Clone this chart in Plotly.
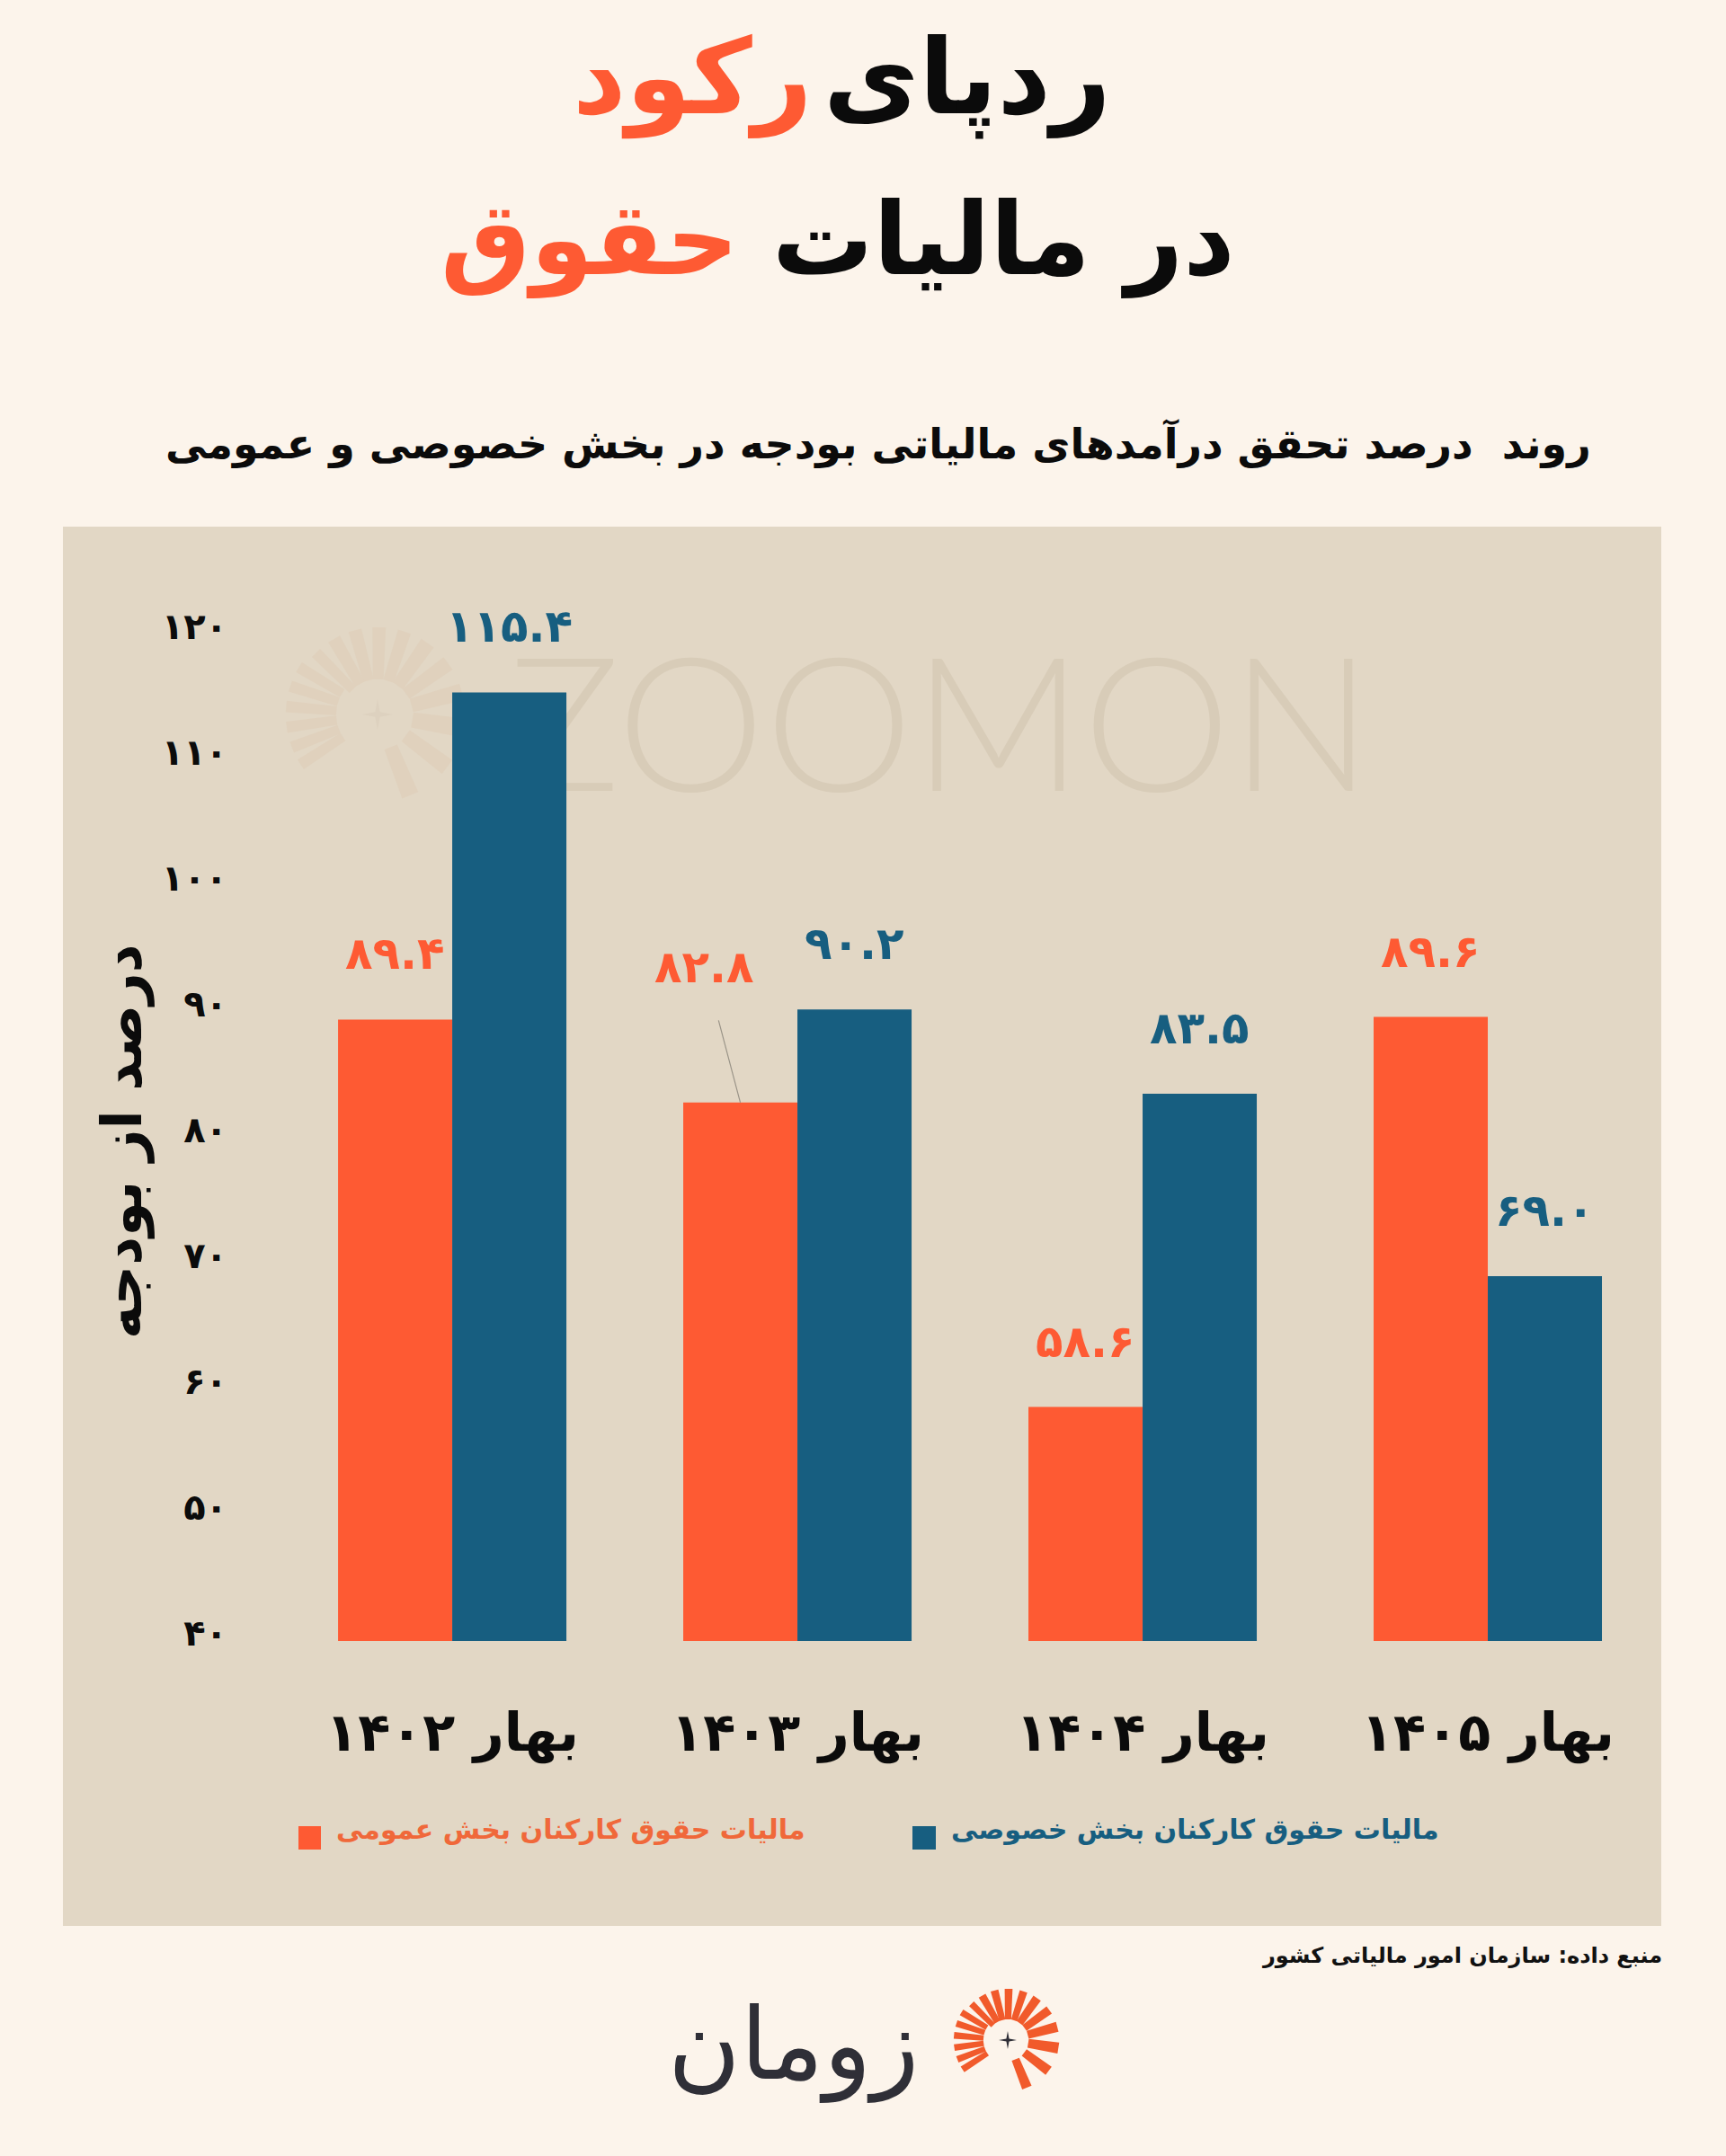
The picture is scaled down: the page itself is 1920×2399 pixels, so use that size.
import math
import plotly.graph_objects as go

# ---------------- data ----------------
categories = ["بهار ۱۴۰۲", "بهار ۱۴۰۳", "بهار ۱۴۰۴", "بهار ۱۴۰۵"]
public_values = [89.4, 82.8, 58.6, 89.6]
private_values = [115.4, 90.2, 83.5, 69.0]
public_name = "مالیات حقوق کارکنان بخش عمومی"
private_name = "مالیات حقوق کارکنان بخش خصوصی"
y_tick_values = [40, 50, 60, 70, 80, 90, 100, 110, 120]

FA_DIGITS = str.maketrans("0123456789", "۰۱۲۳۴۵۶۷۸۹")


def fa(s):
    return str(s).translate(FA_DIGITS)


y_tick_labels = [fa(v) for v in y_tick_values]
public_labels = [fa(f"{v:.1f}") for v in public_values]
private_labels = [fa(f"{v:.1f}") for v in private_values]

# ---------------- style ----------------
ORANGE = "#FE5A33"
BLUE = "#175E80"
PANEL = "#E2D7C5"
PAGE = "#FCF4EB"
INK = "#0B0B0B"
FA_FONT = "DejaVu Sans"

W, H = 1920, 2399
L, R = 260, 1847
T, B = 636, 1826
YMIN, YMAX = 40, 125
XMIN, XMAX = -0.633, 3.5


def px(x):
    return (x - L) / (R - L)


def py(y):
    return (B - y) / (B - T)


fig = go.Figure()
fig.add_trace(go.Bar(x=categories, y=[v - YMIN for v in public_values], base=YMIN,
                     name=public_name, marker=dict(color=ORANGE, line=dict(width=0)),
                     hoverinfo="skip"))
fig.add_trace(go.Bar(x=categories, y=[v - YMIN for v in private_values], base=YMIN,
                     name=private_name, marker=dict(color=BLUE, line=dict(width=0)),
                     hoverinfo="skip"))

shapes = []
# panel
shapes.append(dict(type="rect", xref="paper", yref="paper", x0=px(70), x1=px(1848),
                   y0=py(2143), y1=py(586), fillcolor=PANEL, line=dict(width=0), layer="below"))
# watermark text
shapes.append(dict(type="rect", xref="paper", yref="paper", x0=px(585), x1=px(1507),
                   y0=py(872), y1=py(720), fillcolor="rgba(0,0,0,0)", line=dict(width=0),
                   layer="below",
                   label=dict(text="ZOOMON", textposition="middle center",
                              font=dict(family="Lato Light, Lato, sans-serif", size=208, color="#D8CCB8"))))


def sunburst(cx, cy, s, color, star_color, layer):
    rays = [(-68, 9), (-37, 9), (-9, 10), (15, 9), (36, 8), (55, 8), (72, 7), (89, 7),
            (105, 7), (120, 7), (135, 6), (149, 6), (162, 6), (175, 6), (188, 6), (201, 6), (213, 6)]
    out = []
    for ang, wdt in rays:
        a = math.radians(ang)
        r1, r2 = 23 * s, 57 * s
        if 140 < ang < 220:
            r1, r2 = 27 * s, 60 * s
        ux, uy = math.cos(a), -math.sin(a)
        nx, ny = -uy, ux
        hw = wdt * s / 2
        pts = [(cx + ux * r1 + nx * hw, cy + uy * r1 + ny * hw),
               (cx + ux * r2 + nx * hw * 1.25, cy + uy * r2 + ny * hw * 1.25),
               (cx + ux * r2 - nx * hw * 1.25, cy + uy * r2 - ny * hw * 1.25),
               (cx + ux * r1 - nx * hw, cy + uy * r1 - ny * hw)]
        path = "M " + " L ".join(f"{px(x):.5f},{py(y):.5f}" for x, y in pts) + " Z"
        out.append(dict(type="path", xref="paper", yref="paper", path=path,
                        fillcolor=color, line=dict(width=0), layer=layer))
    # 4-point star
    rs, rw = 10 * s, 2.2 * s
    spts = []
    for k in range(8):
        a = math.radians(90 + k * 45)
        r = rs if k % 2 == 0 else rw
        spts.append((cx + r * math.cos(a), cy - r * math.sin(a)))
    path = "M " + " L ".join(f"{px(x):.5f},{py(y):.5f}" for x, y in spts) + " Z"
    out.append(dict(type="path", xref="paper", yref="paper", path=path,
                    fillcolor=star_color, line=dict(width=0), layer=layer))
    return out


shapes += sunburst(420, 795, 1.7, "#E0D1BD", "#DDD1BF", "below")
shapes += sunburst(1121, 2270, 1.0, "#F15A2B", "#2F2F37", "above")

# legend squares
shapes.append(dict(type="rect", xref="paper", yref="paper", x0=px(332), x1=px(357),
                   y0=py(2058), y1=py(2032), fillcolor=ORANGE, line=dict(width=0)))
shapes.append(dict(type="rect", xref="paper", yref="paper", x0=px(1015), x1=px(1041),
                   y0=py(2058), y1=py(2032), fillcolor=BLUE, line=dict(width=0)))

ann = []


def txt(text, x, y, size, color, xanchor="center", angle=0, weight="bold", family=FA_FONT):
    ann.append(dict(text=text, x=px(x), y=py(y), xref="paper", yref="paper",
                    xanchor=xanchor, yanchor="middle", showarrow=False, textangle=angle,
                    font=dict(family=family, size=size, color=color, weight=weight)))


# title
txt("ردپای", 914, 86, 116, INK, "left")
txt("رکود", 906, 86, 116, ORANGE, "right")
txt("در مالیات", 857, 266, 112, INK, "left")
txt("حقوق", 824, 266, 112, ORANGE, "right")
# subtitle
txt("روند  درصد تحقق درآمدهای مالیاتی بودجه در بخش خصوصی و عمومی", 1772, 493, 46, INK, "right")
# y title
txt("درصد از بودجه", 135, 1270, 62, INK, "center", angle=-90)
# legend text
txt(public_name, 372, 2035, 30, "#F0683A", "left")
txt(private_name, 1056, 2035, 30, BLUE, "left")
# source
txt("منبع داده: سازمان امور مالیاتی کشور", 1851, 2176, 24, "#111111", "right")
# logo word
txt("زومان", 1024, 2275, 110, "#2F2F37", "right", weight="normal")

# data labels
BAR_HALF = 63.5
for i, c in enumerate(categories):
    if i == 1:
        ann.append(dict(x=c, y=public_values[i], xref="x", yref="y", text=public_labels[i],
                        xshift=-BAR_HALF, showarrow=True, ax=-40, ay=-151, axref="pixel",
                        ayref="pixel", arrowhead=0, arrowwidth=1.2, arrowcolor="#9A9488",
                        startstandoff=30, standoff=0,
                        font=dict(family=FA_FONT, size=50, color=ORANGE, weight="bold")))
    else:
        ann.append(dict(x=c, y=public_values[i], xref="x", yref="y", text=public_labels[i],
                        xshift=-BAR_HALF, yshift=73, yanchor="middle", showarrow=False,
                        font=dict(family=FA_FONT, size=50, color=ORANGE, weight="bold")))
    ann.append(dict(x=c, y=private_values[i], xref="x", yref="y", text=private_labels[i],
                    xshift=BAR_HALF, yshift=73, yanchor="middle", showarrow=False,
                    font=dict(family=FA_FONT, size=50, color=BLUE, weight="bold")))

fig.update_layout(
    width=W, height=H,
    margin=dict(l=L, r=W - R, t=T, b=H - B, pad=0),
    paper_bgcolor=PAGE, plot_bgcolor="rgba(0,0,0,0)",
    barmode="group", bargap=0.3385, bargroupgap=0,
    showlegend=False,
    shapes=shapes, annotations=ann,
    xaxis=dict(range=[XMIN, XMAX], showgrid=False, zeroline=False, showline=False,
               ticks="", ticklabelstandoff=62,
               tickfont=dict(family=FA_FONT, size=59, color=INK, weight="bold"),
               fixedrange=True),
    yaxis=dict(range=[YMIN, YMAX], tickvals=y_tick_values, ticktext=y_tick_labels,
               showgrid=False, zeroline=False, showline=False, ticks="",
               ticklabelstandoff=6, ticklabelshift=-9,
               tickfont=dict(family=FA_FONT, size=40, color=INK, weight="bold"),
               fixedrange=True),
)

fig.write_html("out.html", config={"displayModeBar": False})
